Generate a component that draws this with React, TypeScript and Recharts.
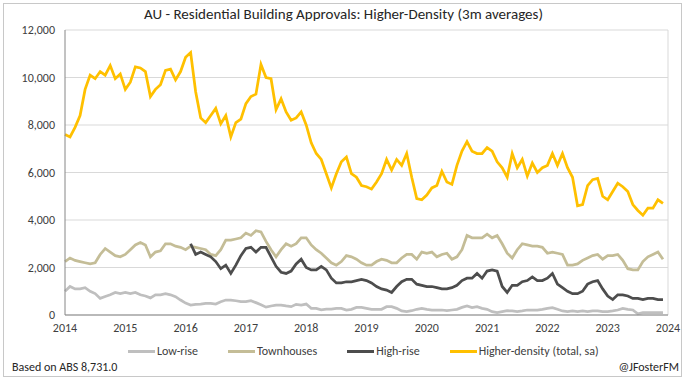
import React from 'react';
import {
  CartesianGrid,
  Line,
  LineChart,
  ReferenceLine,
  XAxis,
  YAxis,
} from 'recharts';

// monthly, Jan 2014 .. Dec 2023 (3m averages)
const START_YEAR = 2014;
const yearTicks = [0, 12, 24, 36, 48, 60, 72, 84, 96, 108, 120];
const valueTicks = [0, 2000, 4000, 6000, 8000, 10000, 12000];

const higherDensity = [
  7600, 7500, 7900, 8400, 9500, 10100, 9950, 10250, 10100, 10500, 9950, 10150,
  9500, 9800, 10450, 10400, 10250, 9200, 9500, 9700, 10300, 10350, 9900, 10250,
  10850, 11050, 9400, 8300, 8100, 8400, 8700, 8050, 8400, 7500, 8100, 8250,
  8900, 9200, 9300, 10550, 10000, 9950, 8650, 9100, 8550, 8200, 8300, 8550,
  8000, 7250, 6800, 6550, 5950, 5350, 5950, 6450, 6650, 5950, 5800, 5450,
  5400, 5300, 5600, 5950, 6550, 6100, 6550, 6300, 6800, 5800, 4900, 4850,
  5050, 5350, 5450, 6050, 5600, 5500, 6300, 6900, 7300, 6900, 6800, 6800,
  7050, 6900, 6450, 6200, 5800, 6800, 6200, 6550, 5850, 6400, 6000, 6200,
  6300, 6800, 6300, 6800, 6200, 5800, 4600, 4650, 5450, 5700, 5750, 5000,
  4850, 5200, 5550, 5400, 5200, 4650, 4400, 4200, 4500, 4500, 4850, 4700,
];

const townhouses = [
  2250, 2400, 2300, 2250, 2200, 2150, 2200, 2550, 2800, 2650, 2500, 2450,
  2550, 2750, 2950, 3050, 2950, 2450, 2650, 2700, 3000, 3000, 2900, 2850,
  2750, 2900, 2850, 2800, 2750, 2550, 2500, 2750, 3150, 3150, 3200, 3250,
  3450, 3350, 3550, 3500, 3100, 2750, 2450, 2750, 3000, 2900, 3000, 3250,
  3250, 2950, 2750, 2600, 2400, 2200, 2100, 2250, 2500, 2450, 2350, 2200,
  2100, 2100, 2250, 2350, 2300, 2200, 2200, 2400, 2550, 2550, 2350, 2650,
  2600, 2650, 2450, 2550, 2600, 2350, 2450, 2750, 3350, 3250, 3250, 3250,
  3400, 3250, 3350, 3000, 2600, 2400, 2750, 3000, 2950, 2900, 2900, 2850,
  2600, 2650, 2600, 2550, 2100, 2100, 2150, 2300, 2400, 2500, 2550, 2350,
  2500, 2500, 2550, 2300, 1950, 1900, 1900, 2250, 2450, 2550, 2650, 2350,
];

// high-rise series starts Feb 2016
const highRise = [
  null, null, null, null, null, null, null, null, null, null, null, null,
  null, null, null, null, null, null, null, null, null, null, null, null,
  null, 3000, 2550, 2650, 2550, 2450, 2250, 1950, 2100, 1750, 2100, 2500,
  2800, 2850, 2650, 2850, 2850, 2450, 2050, 1800, 1750, 1850, 2150, 2350,
  2000, 1900, 1900, 2050, 1900, 1550, 1350, 1350, 1400, 1400, 1450, 1500,
  1450, 1350, 1200, 1100, 1050, 950, 1200, 1400, 1500, 1500, 1300, 1250,
  1200, 1200, 1150, 1100, 1100, 1150, 1250, 1450, 1550, 1550, 1750, 1550,
  1850, 1900, 1850, 1200, 950, 1250, 1250, 1400, 1450, 1600, 1450, 1450,
  1550, 1750, 1300, 1150, 1000, 900, 900, 1000, 1300, 1400, 1450, 1100,
  800, 650, 850, 850, 800, 700, 700, 650, 700, 700, 650, 650,
];

const lowRise = [
  1000, 1200, 1100, 1100, 1150, 1000, 900, 700, 780, 850, 950, 900,
  950, 900, 950, 850, 800, 720, 850, 850, 900, 850, 770, 630,
  500, 420, 450, 460, 490, 490, 460, 560, 630, 630, 600, 560,
  560, 600, 520, 430, 330, 380, 420, 420, 380, 350, 450, 420,
  460, 280, 280, 220, 250, 250, 280, 280, 210, 240, 320, 320,
  280, 240, 240, 240, 350, 350, 280, 170, 140, 180, 240, 280,
  240, 210, 210, 210, 180, 210, 240, 320, 380, 310, 350, 280,
  240, 140, 100, 140, 180, 170, 140, 170, 210, 210, 210, 240,
  280, 310, 240, 170, 140, 170, 140, 170, 140, 170, 170, 140,
  140, 170, 210, 280, 240, 210, 50, 100, 100, 100, 100, 100,
];

const data = higherDensity.map((v, i) => ({
  m: i,
  lowRise: lowRise[i],
  townhouses: townhouses[i],
  highRise: highRise[i],
  total: v,
}));

const series = [
  { key: 'lowRise', name: 'Low-rise', color: '#bfbfbf' },
  { key: 'townhouses', name: 'Townhouses', color: '#c4bd97' },
  { key: 'highRise', name: 'High-rise', color: '#4d4d4d' },
  { key: 'total', name: 'Higher-density (total, sa)', color: '#ffc000' },
];

const FONT = "Carlito, Calibri, Lato, sans-serif";

export default function App() {
  return (
    <div
      style={{
        position: 'absolute',
        left: 0,
        top: 0,
        width: 687,
        height: 384,
        background: '#fff',
        fontFamily: FONT,
        overflow: 'hidden',
      }}
    >
      <div
        style={{
          position: 'absolute',
          left: 3,
          top: 3,
          width: 679,
          height: 374,
          border: '1px solid #c8c8c8',
          boxSizing: 'border-box',
        }}
      />
      <div
        style={{
          position: 'absolute',
          top: 5,
          left: 0,
          width: 687,
          textAlign: 'center',
          fontSize: 15,
          color: '#262626',
        }}
      >
        AU - Residential Building Approvals: Higher-Density (3m averages)
      </div>
      <LineChart
        width={687}
        height={384}
        data={data}
        margin={{ top: 30, right: 19, left: 8, bottom: 49 }}
        style={{ position: 'absolute', left: 0, top: 0 }}
      >
        <CartesianGrid vertical={false} stroke="#d9d9d9" />
        <XAxis
          dataKey="m"
          type="number"
          domain={[0, 120]}
          ticks={yearTicks}
          tickFormatter={(v) => String(START_YEAR + v / 12)}
          height={20}
          stroke="#868686"
          tickLine={false}
          tick={{ fill: '#404040', fontSize: 12, fontFamily: FONT }}
          interval={0}
        />
        <YAxis
          domain={[0, 12000]}
          ticks={valueTicks}
          width={57}
          stroke="#868686"
          tickLine={false}
          tickMargin={4}
          tick={{ fill: '#404040', fontSize: 12, fontFamily: FONT }}
          tickFormatter={(v) => v.toLocaleString('en-US')}
        />
        <ReferenceLine x={120} stroke="#d9d9d9" />
        {series.map((s) => (
          <Line
            key={s.key}
            dataKey={s.key}
            name={s.name}
            stroke={s.color}
            strokeWidth={2.75}
            dot={false}
            isAnimationActive={false}
          />
        ))}
      </LineChart>
      <div
        style={{
          position: 'absolute',
          left: 128,
          top: 344,
          display: 'flex',
          alignItems: 'center',
          fontSize: 12,
          color: '#404040',
        }}
      >
        {series.map((s) => (
          <div key={s.key} style={{ display: 'flex', alignItems: 'center', marginRight: 30 }}>
            <span
              style={{ display: 'inline-block', width: 27, height: 3, background: s.color, marginRight: 2 }}
            />
            <span>{s.name}</span>
          </div>
        ))}
      </div>
      <div style={{ position: 'absolute', left: 12, top: 360, fontSize: 12, color: '#262626' }}>
        Based on ABS 8,731.0
      </div>
      <div style={{ position: 'absolute', right: 8, top: 360, fontSize: 12, color: '#262626' }}>
        @JFosterFM
      </div>
    </div>
  );
}
